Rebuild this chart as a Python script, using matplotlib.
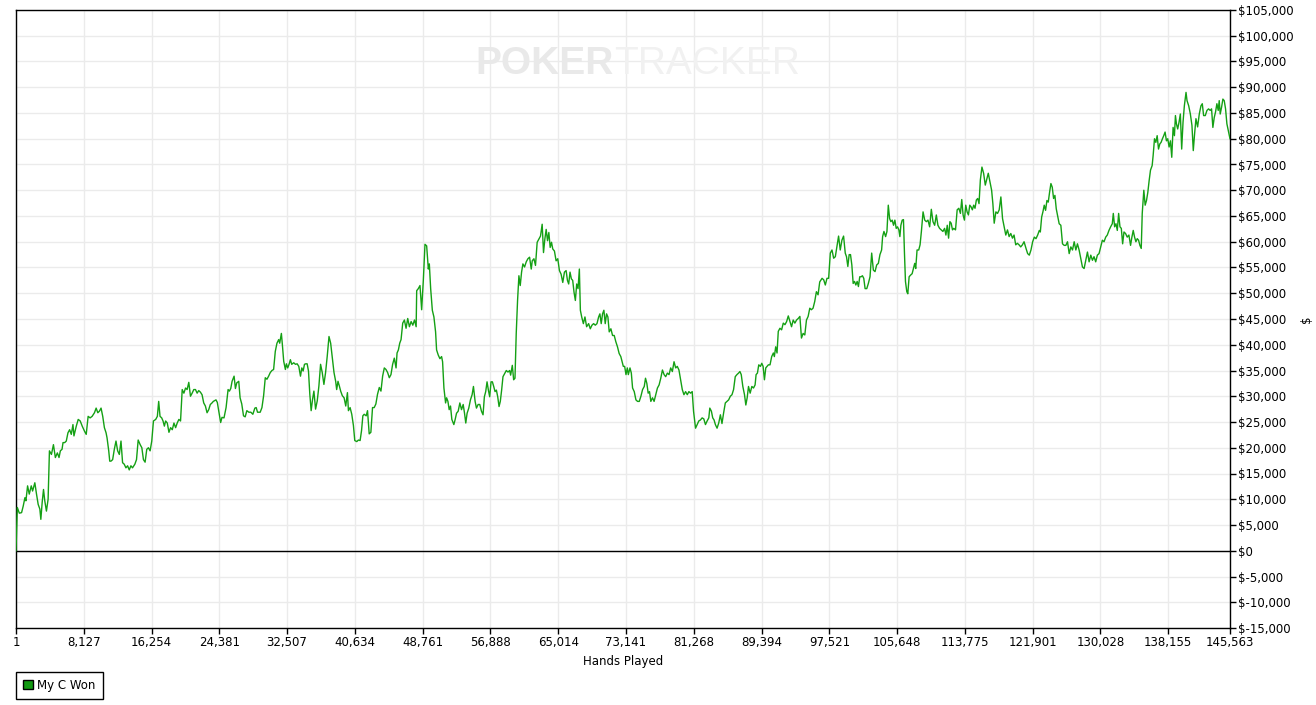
import numpy as np
import matplotlib
matplotlib.use("Agg")
import matplotlib.pyplot as plt
from matplotlib.patches import Patch
from matplotlib.ticker import FuncFormatter

plt.rcParams['font.family'] = ['DejaVu Sans']

# ---- data (hands played, $ won in thousands)
hands_a = [1, 160, 400, 670, 870, 1070, 1190, 1390, 1590, 1830, 1990, 2260, 2460, 2660, 2860, 2980,
           3140, 3300, 3450, 3650, 3850, 4010, 4250, 4490, 4720, 4960, 5160, 5320, 5520, 5640, 5840,
           6030, 6230, 6430, 6630, 6830, 6950, 7230, 7460, 7700, 7940, 8220, 8420, 8650, 8890, 9130,
           9410, 9610, 9810, 10000, 10200, 10400, 10600, 10800, 10920, 11120, 11240, 11390, 11590,
           11790, 11990, 12190, 12390, 12590, 12780, 12980, 13180, 13380, 13580, 13780, 13970, 14250,
           14450, 14650, 14890, 15090, 15280, 15480, 15680, 15880, 16080, 16280, 16480, 16750, 16950,
           17110, 17270, 17470, 17630, 17790, 17940, 18140, 18340, 18540, 18740, 18940, 19140, 19330,
           19530, 19730, 19930, 20130, 20330, 20520, 20720, 20920, 21120, 21320, 21520, 21720, 21910,
           22110, 22310, 22510, 22710, 22910, 23110, 23300, 23500]
won_a = [0, 8.4, 7.3, 7.4, 8.7, 10.3, 9.7, 12.6, 11.0, 12.6, 11.6, 13.2, 11.0, 9.0, 8.1, 6.1,
         9.4, 11.9, 9.7, 7.7, 10.0, 19.4, 18.7, 20.6, 18.1, 19.0, 18.1, 19.4, 19.7, 21.0, 21.0,
         21.3, 22.9, 23.5, 22.6, 24.5, 22.3, 24.2, 25.5, 25.2, 24.2, 23.2, 22.6, 26.1, 25.8, 26.1,
         26.8, 27.7, 26.8, 27.1, 27.7, 26.1, 23.9, 22.9, 21.9, 19.4, 17.4, 17.4, 17.7,
         19.7, 21.3, 19.4, 18.7, 21.3, 17.1, 16.8, 16.1, 16.5, 15.7, 16.5, 16.1, 16.8,
         17.7, 21.5, 20.6, 20.0, 17.7, 17.2, 19.7, 20.0, 19.4, 21.3, 25.2, 25.5, 26.1,
         29.0, 26.1, 25.8, 25.2, 24.2, 25.2, 24.8, 23.0, 23.9, 23.5, 24.8, 23.9, 24.8,
         25.5, 25.2, 31.3, 30.6, 31.6, 31.3, 32.7, 30.0, 30.6, 31.3, 31.3, 30.6, 31.1,
         30.8, 30.3, 28.7, 28.1, 26.8, 27.4, 28.4, 28.7]

hands_b = [23660, 23980, 24140, 24380, 24540, 24700, 24940, 25190, 25430, 25590, 25750, 25910, 26150,
           26310, 26470, 26710, 26870, 27070, 27280, 27480, 27680, 27920, 28160, 28400, 28640, 28800,
           28960, 29280, 29490, 29690, 29890, 30090, 30290, 30490, 30690, 30890, 31090, 31290, 31500,
           31620, 31820, 31940, 32100, 32300, 32420, 32580, 32740, 32900, 33060, 33300, 33510, 33710,
           33910, 34110, 34270, 34430, 34590, 34750, 34910, 35070, 35230, 35390, 35560, 35720, 35920,
           36120, 36320, 36520, 36720, 36920, 37120, 37320, 37530, 37730, 37930, 38130, 38330, 38450,
           38610, 38770, 38930, 39130, 39340, 39540, 39740, 39860, 40060, 40260, 40460, 40620, 40860,
           41060, 41260, 41430, 41590, 41750, 41990, 42150, 42350, 42550, 42750, 42950, 43150, 43350,
           43560, 43760, 43960, 44160, 44360, 44560, 44760, 44960, 45160, 45360, 45570, 45690, 45850,
           46010, 46170, 46370, 46570, 46770, 46970, 47170, 47380, 47580, 47780, 47980]
won_b = [29.0, 29.3, 28.8, 26.5, 24.9, 25.9, 25.8, 27.8, 31.3, 31.0, 31.5, 32.9, 33.9,
         31.5, 32.6, 32.9, 29.7, 28.5, 26.2, 26.0, 27.2, 26.9, 26.9, 26.5, 27.7, 27.8,
         26.9, 26.9, 27.8, 30.1, 33.6, 33.3, 33.9, 34.6, 35.0, 35.2, 38.7, 40.3, 41.0,
         40.3, 42.2, 40.0, 36.8, 35.2, 36.3, 35.5, 36.2, 37.1, 36.2, 36.5, 36.2, 36.3,
         35.8, 33.9, 35.5, 34.9, 36.2, 36.3, 36.3, 34.9, 30.4, 27.2, 29.4, 31.0, 27.5,
         29.1, 32.0, 36.2, 34.6, 32.3, 34.6, 37.8, 41.6, 40.3, 37.4, 34.6, 32.9, 31.3,
         32.9, 32.0, 31.0, 30.1, 29.7, 28.1, 30.7, 27.2, 27.8, 26.5, 24.3, 21.4, 21.2,
         21.5, 21.4, 23.3, 26.2, 26.5, 26.2, 27.2, 22.7, 23.0, 27.8, 27.8, 28.5, 30.4,
         31.7, 31.0, 33.9, 35.5, 35.2, 34.6, 33.6, 34.2, 36.2, 37.4, 35.5, 38.4, 39.0,
         40.3, 41.0, 44.2, 44.8, 43.2, 45.1, 43.5, 44.5, 43.8, 44.8, 43.5]

hands_c = [48045, 48240, 48440, 48640, 48840, 49040, 49240, 49440, 49560, 49720, 49920, 50110, 50310,
           50430, 50630, 50830, 51030, 51150, 51310, 51510, 51630, 51790, 51940, 52100, 52260, 52500,
           52660, 52820, 53020, 53220, 53420, 53620, 53780, 53930, 54090, 54290, 54490, 54690, 54850,
           55050, 55210, 55410, 55610, 55810, 56000, 56160, 56320, 56480, 56640, 56800, 56960, 57120,
           57280, 57440, 57600, 57760, 57920, 58070, 58230, 58390, 58590, 58790, 58990, 59190, 59310,
           59510, 59670, 59830, 59980, 60140, 60300, 60460, 60620, 60780, 60980, 61180, 61380, 61580,
           61780, 61900, 62100, 62290, 62490, 62690, 62890, 63090, 63250, 63410, 63570, 63730, 63890,
           64050, 64210, 64360, 64560, 64760, 64960, 65160, 65360, 65560, 65760, 65960, 66120, 66270,
           66430, 66590, 66750, 66910, 67070, 67230, 67390, 67550, 67670, 67830, 68030, 68220, 68420,
           68660, 68860, 69060, 69260, 69460, 69660, 69860, 70010, 70170, 70330, 70490, 70650, 70810,
           70970, 71130, 71330, 71530, 71730, 71920, 72120, 72320, 72520]
won_c = [50.5, 50.9, 51.5, 46.8, 52.5, 59.5, 59.2, 54.7, 55.7, 50.9, 46.7, 45.4, 42.5,
         39.0, 38.0, 37.3, 37.7, 36.7, 31.6, 28.7, 29.7, 29.0, 27.4, 28.1, 25.5, 24.5,
         25.5, 26.7, 27.1, 28.7, 27.4, 28.4, 26.7, 24.8, 26.7, 27.7, 29.3, 30.3, 31.9,
         29.0, 27.7, 28.4, 28.4, 27.1, 26.4, 29.9, 30.9, 32.8, 31.2, 29.9, 32.8, 32.8,
         31.9, 30.9, 31.2, 29.9, 28.0, 29.0, 31.2, 33.8, 34.4, 35.0, 34.7, 35.0, 34.1,
         36.0, 33.2, 33.5, 42.2, 48.6, 53.4, 51.5, 54.1, 55.7, 55.1, 56.1, 56.7, 57.0,
         54.7, 56.3, 56.7, 55.4, 59.9, 60.5, 61.1, 63.4, 57.9, 60.5, 62.4, 60.2, 61.8,
         58.9, 59.9, 58.6, 58.2, 56.3, 56.7, 54.4, 53.7, 52.1, 54.1, 54.4, 52.5, 51.8,
         54.1, 52.8, 52.5, 50.2, 48.6, 51.8, 50.9, 54.7, 46.7, 45.4, 44.1, 45.4, 43.5,
         44.1, 43.1, 43.8, 44.1, 43.8, 44.1, 45.4, 46.0, 44.1, 46.0, 46.7, 44.1, 46.0,
         45.4, 42.5, 43.1, 41.8, 41.8, 40.6, 39.6, 38.3, 37.7]

hands_d = [72820, 72980, 73140, 73300, 73420, 73620, 73780, 73930, 74130, 74330, 74530, 74730, 74930,
           75130, 75330, 75480, 75640, 75800, 75960, 76120, 76320, 76510, 76710, 76910, 77110, 77310,
           77510, 77710, 77900, 78100, 78300, 78500, 78700, 78900, 79100, 79290, 79490, 79690, 79890,
           80090, 80290, 80490, 80680, 80880, 81080, 81240, 81480, 81680, 81870, 82070, 82270, 82470,
           82670, 82870, 83070, 83190, 83380, 83540, 83700, 83860, 84060, 84260, 84460, 84650, 84850,
           85050, 85250, 85450, 85650, 85850, 86040, 86240, 86440, 86640, 86800, 86960, 87150, 87350,
           87510, 87670, 87830, 88030, 88230, 88430, 88620, 88740, 88900, 89060, 89260, 89420, 89580,
           89740, 89900, 90050, 90210, 90410, 90610, 90810, 90930, 91090, 91250, 91400, 91600, 91800,
           92000, 92200, 92400, 92600, 92800, 92990, 93190, 93390, 93590, 93790, 93990, 94180, 94380,
           94580, 94780, 94980, 95180, 95370, 95570, 95770, 95970, 96170, 96370]
won_d = [35.8, 35.8, 34.2, 35.5, 34.2, 35.5, 34.5, 31.6, 30.9, 29.3, 29.0, 29.0, 30.0,
         31.3, 31.9, 33.5, 32.5, 30.6, 30.9, 29.0, 29.7, 29.0, 30.3, 31.6, 32.2, 33.5,
         35.1, 34.2, 33.8, 34.5, 34.2, 35.5, 34.8, 36.7, 35.5, 35.8, 35.1, 33.2, 31.3,
         30.3, 30.9, 30.3, 30.9, 30.6, 30.9, 27.1, 23.8, 24.5, 25.2, 25.4, 25.8, 25.6,
         24.5, 25.2, 25.8, 27.7, 27.1, 25.8, 25.4, 24.5, 23.8, 24.8, 26.4, 24.7, 26.8,
         28.7, 29.0, 29.3, 30.0, 30.3, 31.3, 33.8, 34.2, 34.5, 34.8, 34.2, 31.9, 30.3,
         28.3, 29.7, 31.9, 30.6, 31.9, 31.6, 32.2, 34.2, 34.5, 36.1, 35.8, 36.4, 35.8,
         33.2, 35.5, 35.8, 36.1, 36.1, 37.7, 38.4, 37.7, 39.6, 38.4, 42.6, 43.2, 42.9,
         44.2, 43.9, 44.5, 45.6, 44.5, 43.5, 44.8, 44.2, 44.8, 45.1, 45.5, 41.3, 42.2,
         41.9, 44.8, 45.5, 47.1, 46.8, 47.1, 48.4, 50.3, 49.7, 52.2]

hands_e = [96650, 96850, 97040, 97240, 97440, 97640, 97840, 98040, 98240, 98430, 98630, 98830, 99030,
           99230, 99430, 99580, 99740, 99900, 100060, 100220, 100380, 100540, 100700, 100860, 101010,
           101170, 101330, 101490, 101650, 101810, 102010, 102200, 102400, 102600, 102800, 103000,
           103200, 103400, 103590, 103790, 103910, 104070, 104270, 104430, 104590, 104750, 104900,
           105060, 105220, 105380, 105540, 105700, 105860, 105980, 106100, 106260, 106410, 106530,
           106650, 106810, 106930, 107090, 107250, 107450, 107610, 107760, 107880, 108040, 108240,
           108400, 108560, 108760, 108960, 109150, 109350, 109550, 109750, 109950, 110150, 110350,
           110540, 110740, 110940, 111140, 111340, 111500, 111660, 111820, 111980, 112130, 112290,
           112450, 112650, 112850, 113050, 113240, 113400, 113560, 113720, 113880, 114040, 114200,
           114360, 114510, 114670, 114830, 114990, 115150, 115310, 115470, 115630, 115820, 116020,
           116220, 116420, 116580, 116780, 116980, 117130, 117290, 117490, 117690, 117890, 118090,
           118290, 118480, 118680, 118880, 119080, 119280, 119480, 119670, 119870, 120070, 120270,
           120470, 120670, 120870]
won_e = [52.9, 52.6, 51.6, 52.9, 52.9, 57.8, 58.4, 56.8, 57.1, 59.0, 61.1, 58.4, 60.3,
         61.1, 57.8, 57.1, 55.2, 57.5, 57.5, 55.5, 51.9, 52.3, 51.6, 52.3, 51.3,
         53.2, 53.2, 53.4, 52.9, 50.9, 50.9, 51.9, 53.2, 57.8, 54.5, 54.2,
         55.5, 55.8, 57.5, 58.4, 61.0, 62.0, 61.0, 62.0, 67.1, 64.5, 63.9,
         64.2, 63.2, 64.2, 62.6, 62.9, 62.3, 61.0, 63.2, 64.2, 64.3, 57.8,
         52.3, 50.3, 49.9, 53.2, 53.5, 53.8, 54.8, 55.8, 54.8, 58.4, 58.4,
         59.4, 62.0, 65.8, 64.2, 63.9, 64.2, 62.9, 66.3, 63.9, 63.2, 65.2,
         63.2, 62.6, 62.3, 62.0, 62.6, 61.3, 63.2, 60.7, 63.9, 63.6, 62.3,
         62.6, 62.3, 66.2, 66.5, 65.5, 68.2, 65.2, 64.2, 67.1, 65.8, 65.2,
         67.1, 66.8, 66.2, 67.1, 66.5, 68.1, 68.4, 67.4, 72.0, 74.5, 73.3,
         71.0, 72.3, 73.3, 71.6, 70.0, 67.4, 63.6, 65.8, 65.5, 66.2, 68.7,
         64.5, 62.9, 61.3, 62.3, 61.0, 61.6, 60.7, 61.3, 59.4, 59.7, 59.4,
         59.0, 59.4, 60.0]

hands_f = [121105, 121300, 121500, 121700, 121900, 122100, 122300, 122500, 122700, 122820, 122980,
           123130, 123290, 123450, 123610, 123770, 123930, 124090, 124250, 124410, 124570, 124730,
           124890, 125080, 125280, 125480, 125680, 125880, 126080, 126280, 126480, 126680, 126880,
           127080, 127270, 127470, 127670, 127870, 128070, 128270, 128470, 128670, 128870, 129070,
           129260, 129460, 129660, 129860, 130060, 130260, 130460, 130660, 130850, 131050, 131250,
           131450, 131570, 131730, 131890, 132050, 132210, 132370, 132530, 132690, 132850, 133040,
           133240, 133440, 133640, 133800, 133960, 134120, 134280, 134440, 134600, 134760, 134920,
           135040, 135230, 135390, 135550, 135710, 135870, 136030, 136230, 136350, 136510, 136670,
           136830, 136990, 137150, 137300, 137460, 137620, 137780, 137940, 138100, 138260, 138420,
           138580, 138740, 138900, 139020, 139140, 139290, 139450, 139610, 139770, 139930, 140090,
           140290, 140410, 140610, 140810, 141000, 141160, 141320, 141480, 141680, 141880, 142080,
           142240, 142400, 142600, 142800, 142990, 143190, 143350, 143510, 143670, 143830, 143990,
           144150, 144270, 144390, 144550, 144710, 144870, 145030, 145190, 145563]
won_f = [58.7, 57.7, 57.4, 58.4, 60.0, 60.9, 60.6, 61.3, 62.2, 61.9, 64.8,
         65.8, 67.1, 66.1, 68.0, 67.7, 69.6, 71.3, 70.6, 68.4, 69.0, 66.4,
         65.1, 63.5, 63.2, 59.6, 59.3, 59.3, 60.0, 57.7, 59.0, 58.4, 60.0,
         58.4, 59.6, 58.4, 56.7, 55.1, 54.8, 56.4, 58.0, 56.1, 57.4, 56.4,
         57.1, 56.1, 57.4, 57.7, 59.0, 60.3, 60.0, 60.9, 61.3, 62.2, 62.9,
         63.5, 65.5, 62.9, 63.5, 62.2, 65.5, 62.9, 62.6, 59.6, 61.9, 61.6,
         60.9, 61.3, 59.3, 60.9, 62.2, 60.9, 60.0, 60.6, 60.3, 59.3, 58.7,
         65.5, 70.0, 67.1, 68.0, 69.6, 71.9, 73.9, 74.8, 76.8, 80.0, 79.3,
         80.6, 78.0, 79.0, 79.3, 80.0, 80.6, 81.3, 79.6, 80.0, 78.4, 79.6,
         76.4, 82.2, 80.6, 84.5, 82.9, 81.9, 83.2, 84.8, 78.0, 83.2, 86.4,
         89.0, 87.4, 86.4, 84.8, 82.6, 77.7, 81.0, 83.9, 82.3, 84.8, 86.4,
         86.8, 84.5, 84.5, 85.5, 85.8, 85.5, 85.8, 82.2, 84.1, 85.2, 86.8,
         85.5, 87.4, 84.8, 86.1, 87.7, 87.4, 85.8, 82.9, 80.0]

x_ticks = [1, 8127, 16254, 24381, 32507, 40634, 48761, 56888, 65014, 73141, 81268,
           89394, 97521, 105648, 113775, 121901, 130028, 138155, 145563]
y_ticks = list(range(-15000, 105001, 5000))

hands = np.array(hands_a + hands_b + hands_c + hands_d + hands_e + hands_f)
won = np.array(won_a + won_b + won_c + won_d + won_e + won_f) * 1000

# ---- figure
W, H = 1316, 705
fig = plt.figure(figsize=(W / 100, H / 100), dpi=100)
ax = fig.add_axes([16 / W, (H - 628) / H, 1214 / W, 618 / H])

green = '#14a014'
ax.plot(hands, won, color=green, lw=1.0, zorder=3)
ax.axhline(0, color='black', lw=1, zorder=2)

ax.set_xlim(1, 145563)
ax.set_ylim(-15000, 105000)
ax.set_xticks(x_ticks)
ax.set_xticklabels([f"{t:,}" for t in x_ticks])
ax.set_yticks(y_ticks)
ax.yaxis.set_major_formatter(FuncFormatter(lambda v, p: f"${int(v):,}"))
ax.yaxis.tick_right()
ax.yaxis.set_label_position('right')
ax.tick_params(axis='both', labelsize=8.5, length=4, width=1, color='black', direction='out', pad=2)
ax.grid(True, color='#ebebeb', lw=1, zorder=0)
ax.set_axisbelow(True)
for s in ax.spines.values():
    s.set_color('black')
    s.set_linewidth(1)

ax.set_xlabel("Hands Played", fontsize=8.5, labelpad=4)
ax.set_ylabel("$", fontsize=8.5, rotation=90, labelpad=4)

# watermark: "POKER" bold then "TRACKER" lighter, placed right after it
wm_family = ['Liberation Sans Narrow', 'Liberation Sans', 'DejaVu Sans']
t1 = fig.text(475 / W, 1 - 74 / H, "POKER", fontsize=28, fontweight='bold', color='#e9e9e9',
              family=wm_family, ha='left', va='baseline', zorder=0)
fig.canvas.draw()
bb = t1.get_window_extent()
fig.text(bb.x1 / W + 1 / W, 1 - 74 / H, "TRACKER", fontsize=28, color='#f1f1f1',
         family=wm_family, ha='left', va='baseline', zorder=0)

# legend
handle = Patch(facecolor='#119911', edgecolor='black', label='My C Won')
fig.legend(handles=[handle], loc='lower left', bbox_to_anchor=(16 / W, 6 / H),
           borderaxespad=0, fontsize=8.5, frameon=True, fancybox=False, edgecolor='black',
           handlelength=0.8, handleheight=0.8, handletextpad=0.4, borderpad=0.6,
           framealpha=1)

fig.savefig("out.png", dpi=100)
